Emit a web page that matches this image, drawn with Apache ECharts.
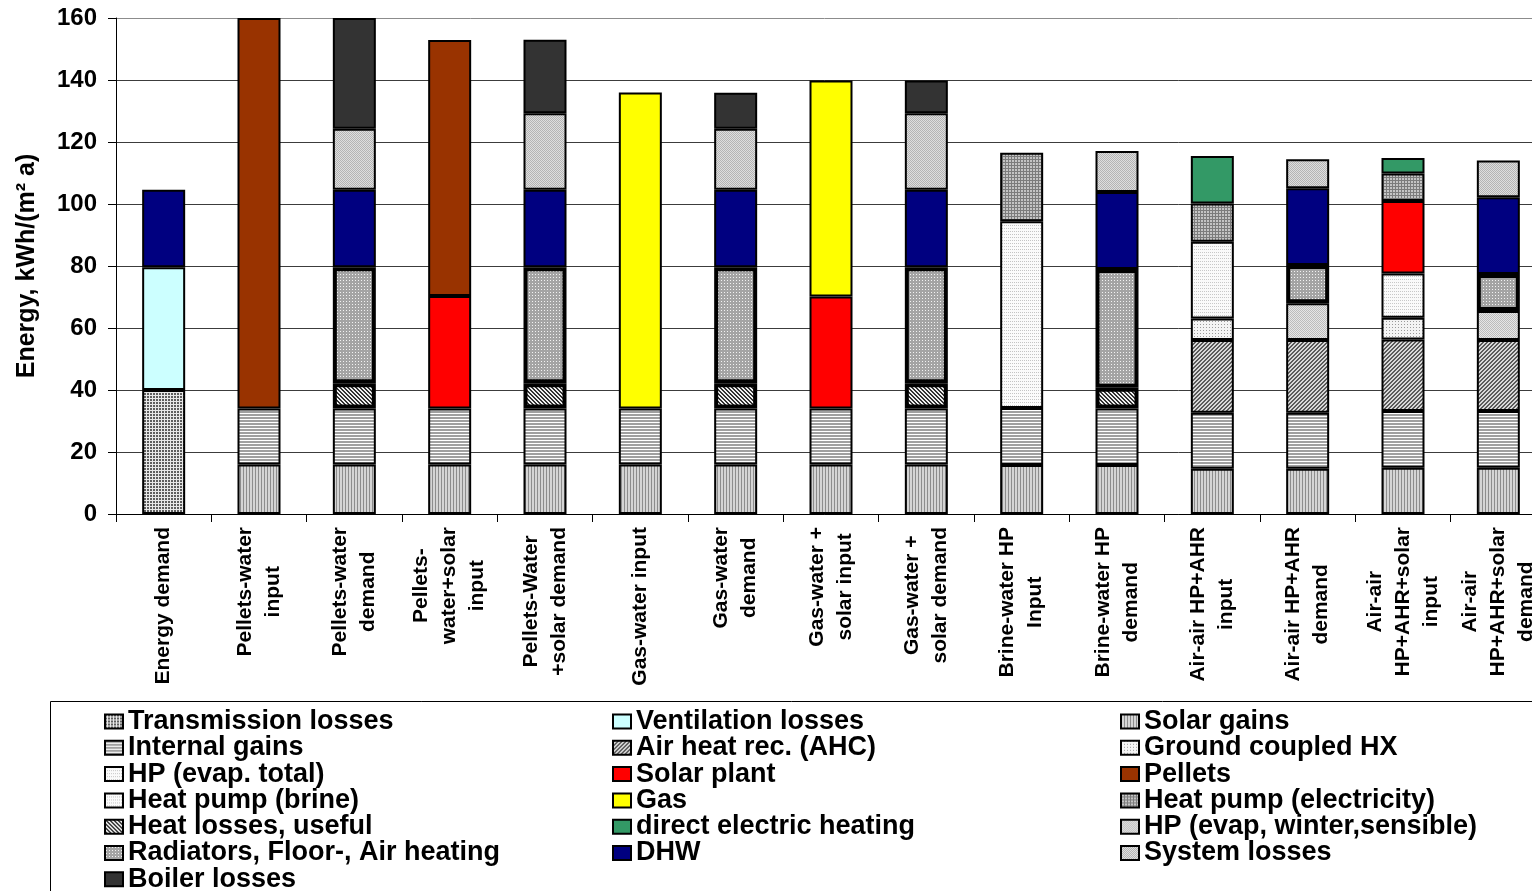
<!DOCTYPE html>
<html>
<head>
<meta charset="utf-8">
<script src="https://cdn.jsdelivr.net/npm/echarts@6/dist/echarts.min.js"></script>
<style>
  html, body { margin: 0; padding: 0; background: #fff; }
  #chart { width: 1532px; height: 891px; }
</style>
</head>
<body>
<div id="chart"></div>
<script>
// ---- Data: energy balance per heating system, kWh/(m² a) ----
const categories = [
  'Energy demand',
  'Pellets-water\ninput',
  'Pellets-water\ndemand',
  'Pellets-\nwater+solar\ninput',
  'Pellets-Water\n+solar demand',
  'Gas-water input',
  'Gas-water\ndemand',
  'Gas-water +\nsolar input',
  'Gas-water +\nsolar demand',
  'Brine-water HP\nInput',
  'Brine-water HP\ndemand',
  'Air-air HP+AHR\ninput',
  'Air-air HP+AHR\ndemand',
  'Air-air\nHP+AHR+solar\ninput',
  'Air-air\nHP+AHR+solar\ndemand'
];

const n = null;
const transmissionLosses = [40, n, n, n, n, n, n, n, n, n, n, n, n, n, n];
const ventilationLosses  = [39.6, n, n, n, n, n, n, n, n, n, n, n, n, n, n];
const solarGains         = [n, 16, 16, 16, 16, 16, 16, 16, 16, 15.8, 15.8, 14.6, 14.6, 14.9, 14.9];
const internalGains      = [n, 18, 18, 18, 18, 18, 18, 18, 18, 18.4, 18.2, 18.1, 18.1, 18.3, 18.3];
const airHeatRec         = [n, n, n, n, n, n, n, n, n, n, n, 23.4, 23.4, 23.1, 22.9];
const groundCoupledHX    = [n, n, n, n, n, n, n, n, n, n, n, 7, n, 7, n];
const hpEvapWinter       = [n, n, n, n, n, n, n, n, n, n, n, n, 11.9, n, 9.4];
const hpEvapTotal        = [n, n, n, n, n, n, n, n, n, n, n, 24.7, n, 14.3, n];
const heatPumpBrine      = [n, n, n, n, n, n, n, n, n, 60.2, n, n, n, n, n];
const heatLossesUseful   = [n, n, 8.2, n, 8.2, n, 8.2, n, 8.2, n, 6.7, n, n, n, n];
const radiators          = [n, n, 37.4, n, 37.4, n, 37.4, n, 37.4, n, 38.3, n, 12.3, n, 11.9];
const solarPlant         = [n, n, n, 36.3, n, n, n, 36.2, n, n, n, n, n, 23.4, n];
const pellets            = [n, 126, n, 82.6, n, n, n, n, n, n, n, n, n, n, n];
const gas                = [n, n, n, n, n, 102, n, 69.6, n, n, n, n, n, n, n];
const hpElectricity      = [n, n, n, n, n, n, n, n, n, 22.1, n, 12.4, n, 8.8, n];
const directElectric     = [n, n, n, n, n, n, n, n, n, n, n, 15.3, n, 5, n];
const dhw                = [25, n, 25, n, 25, n, 25, n, 25, n, 24.9, n, 24.8, n, 24.8];
const systemLosses       = [n, n, 19.7, n, 24.7, n, 19.7, n, 24.7, n, 13.2, n, 9.3, n, 11.8];
const boilerLosses       = [n, n, 35.7, n, 23.7, n, 11.6, n, 10.5, n, n, n, n, n, n];

const yTicks = { min: 0, max: 160, step: 20 };

// ---- Fill patterns (small repeating tiles) ----
function tile(w, h, bg, pts) {
  const c = document.createElement('canvas');
  c.width = w; c.height = h;
  const g = c.getContext('2d');
  g.fillStyle = bg; g.fillRect(0, 0, w, h);
  pts.forEach(([x, y, col]) => { g.fillStyle = col; g.fillRect(x, y, 1, 1); });
  return { image: c, repeat: 'repeat' };
}
function cells(w, h, test, on, off) {
  const pts = [];
  for (let y = 0; y < h; y++) for (let x = 0; x < w; x++) pts.push([x, y, test(x, y) ? on : off]);
  return tile(w, h, off, pts);
}

const fills = {
  transmission: cells(3, 3, (x, y) => x === 2 || y === 2, '#e8e8e8', '#5e5e5e'),
  ventilation: '#CCFFFF',
  solarGains: cells(3, 1, (x) => x === 0, '#8c8c8c', '#d4d4d4'),
  internalGains: cells(1, 3, (x, y) => y === 2, '#ffffff', '#a0a0a0'),
  ahc: cells(4, 4, (x, y) => (x + y) % 4 < 2, '#5a5a5a', '#d8d8d8'),
  gchx: cells(3, 3, (x, y) => x === 0 && y === 0, '#9a9a9a', '#f4f4f4'),
  hpWinter: cells(2, 2, (x, y) => (x + y) % 2 === 0, '#bcbcbc', '#e6e6e6'),
  hpTotal: cells(2, 3, (x, y) => y === 0 && x === 0, '#c8c8c8', '#fafafa'),
  brine: cells(4, 3, (x, y) => y === 0 && x % 2 === 0, '#c4c4c4', '#fbfbfb'),
  heatLossUseful: cells(4, 4, (x, y) => ((x - y + 8) % 4) < 2, '#333333', '#f0f0f0'),
  radiators: cells(3, 3, (x, y) => x === 1 && y === 1, '#f2f2f2', '#a4a4a4'),
  solarPlant: '#FF0000',
  pellets: '#993300',
  gas: '#FFFF00',
  hpElec: cells(3, 3, (x, y) => x === 0 || y === 0, '#7c7c7c', '#c4c4c4'),
  direct: '#339966',
  dhw: '#000080',
  system: cells(2, 2, (x, y) => (x + y) % 2 === 0, '#b4b4b4', '#dedede'),
  boiler: '#333333'
};

// Stack order, bottom to top
const stackDefs = [
  ['Transmission losses', transmissionLosses, fills.transmission, 2],
  ['Ventilation losses', ventilationLosses, fills.ventilation, 2],
  ['Solar gains', solarGains, fills.solarGains, 2],
  ['Internal gains', internalGains, fills.internalGains, 2],
  ['Air heat rec. (AHC)', airHeatRec, fills.ahc, 2],
  ['Ground coupled HX', groundCoupledHX, fills.gchx, 2],
  ['HP (evap, winter,sensible)', hpEvapWinter, fills.hpWinter, 2],
  ['HP (evap. total)', hpEvapTotal, fills.hpTotal, 2],
  ['Heat pump (brine)', heatPumpBrine, fills.brine, 2],
  ['Heat losses, useful', heatLossesUseful, fills.heatLossUseful, 4],
  ['Radiators, Floor-, Air heating', radiators, fills.radiators, 4],
  ['Solar plant', solarPlant, fills.solarPlant, 2],
  ['Pellets', pellets, fills.pellets, 2],
  ['Gas', gas, fills.gas, 2],
  ['Heat pump (electricity)', hpElectricity, fills.hpElec, 2],
  ['direct electric heating', directElectric, fills.direct, 2],
  ['DHW', dhw, fills.dhw, 2],
  ['System losses', systemLosses, fills.system, 2],
  ['Boiler losses', boilerLosses, fills.boiler, 2]
];

const legendColumns = [
  ['Transmission losses', 'Internal gains', 'HP (evap. total)', 'Heat pump (brine)',
   'Heat losses, useful', 'Radiators, Floor-, Air heating', 'Boiler losses'],
  ['Ventilation losses', 'Air heat rec. (AHC)', 'Solar plant', 'Gas',
   'direct electric heating', 'DHW'],
  ['Solar gains', 'Ground coupled HX', 'Pellets', 'Heat pump (electricity)',
   'HP (evap, winter,sensible)', 'System losses']
];

const FONT = '"Liberation Sans", Arial, Helvetica, sans-serif';

const series = stackDefs.map(([name, data, fill, bw]) => ({
  name,
  type: 'bar',
  stack: 'energy',
  data,
  barWidth: 43,
  z: bw > 2 ? 3 : 2,
  itemStyle: { color: fill, borderColor: '#000', borderWidth: bw },
  emphasis: { disabled: true }
}));

const legendLefts = [99, 607, 1115];
const legends = legendColumns.map((names, i) => ({
  data: names,
  orient: 'vertical',
  left: legendLefts[i],
  top: 703,
  height: 200,
  icon: 'rect',
  itemWidth: 18,
  itemHeight: 14,
  itemGap: -0.7,
  selectedMode: false,
  textStyle: { fontSize: 27, fontWeight: 'bold', fontFamily: FONT, color: '#000' }
}));

const gridLineColors = [];
for (let v = yTicks.min; v <= yTicks.max; v += yTicks.step) {
  gridLineColors.push(v === yTicks.max ? '#8c8c8c' : '#3c3c3c');
}

const chart = echarts.init(document.getElementById('chart'), null, { renderer: 'canvas' });
chart.setOption({
  backgroundColor: '#ffffff',
  animation: false,
  textStyle: { fontFamily: FONT },
  grid: { left: 116, top: 18, width: 1430, height: 496, containLabel: false, outerBoundsMode: 'none' },
  legend: legends,
  graphic: [{
    type: 'rect',
    silent: true,
    shape: { x: 50.5, y: 701.5, width: 1600, height: 400 },
    style: { fill: 'none', stroke: '#000', lineWidth: 1 },
    z: -1
  }],
  xAxis: {
    type: 'category',
    data: categories,
    axisLine: { lineStyle: { color: '#000', width: 1 } },
    axisTick: { show: true, length: 8, lineStyle: { color: '#000' } },
    axisLabel: {
      interval: 0,
      rotate: 90,
      margin: 13,
      color: '#000',
      fontSize: 21,
      fontWeight: 'bold',
      fontFamily: FONT,
      lineHeight: 28,
      formatter: (v) => v.split('\n').map((s) => '{c|' + s + '}').join('\n'),
      rich: {
        c: { align: 'center', fontSize: 21, fontWeight: 'bold', fontFamily: FONT, color: '#000', lineHeight: 28 }
      }
    }
  },
  yAxis: {
    type: 'value',
    min: yTicks.min,
    max: yTicks.max,
    interval: yTicks.step,
    name: 'Energy, kWh/(m² a)',
    nameLocation: 'middle',
    nameGap: 76,
    nameRotate: 90,
    nameTextStyle: { fontSize: 25, fontWeight: 'bold', fontFamily: FONT, color: '#000' },
    axisLine: { show: true, lineStyle: { color: '#000', width: 1 } },
    axisTick: { show: true, length: 8, lineStyle: { color: '#000' } },
    axisLabel: { margin: 19, fontSize: 24, fontWeight: 'bold', fontFamily: FONT, color: '#000' },
    splitLine: { show: true, lineStyle: { color: gridLineColors, width: 1 } }
  },
  series
});
</script>
</body>
</html>
